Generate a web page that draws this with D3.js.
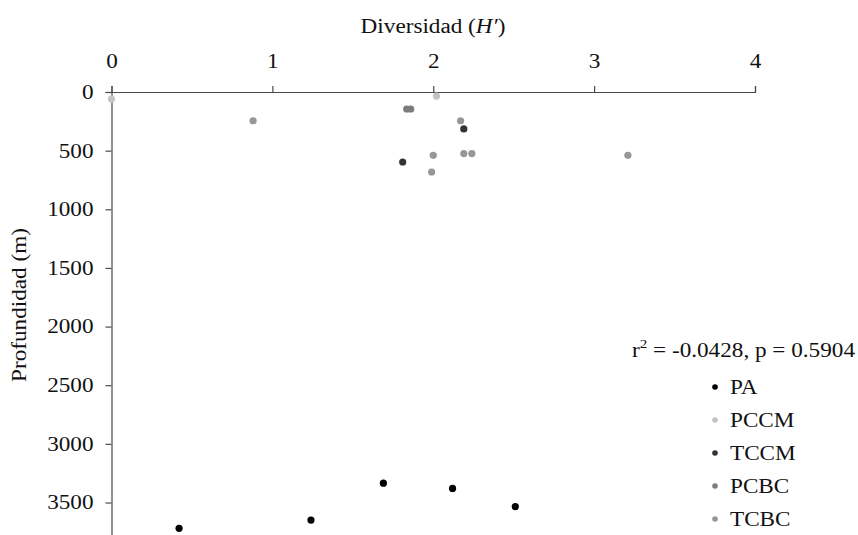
<!DOCTYPE html>
<html>
<head>
<meta charset="utf-8">
<script src="https://cdn.jsdelivr.net/npm/d3@7"></script>
<style>
  body { margin: 0; background: #fff; }
  text { font-family: "Liberation Serif", "Times New Roman", serif; fill: #111; }
</style>
</head>
<body>
<div id="chart"></div>
<script>
// Diversidad vs Profundidad Scatter Plot

// Data Arrays (H' Diversity and Depth in m)
const groups = ["PA", "PCCM", "TCCM", "PCBC", "TCBC"];
const groupColors = ["#000000", "#c4c4c4", "#333333", "#7c7c7c", "#979797"];
const paH = [0.42, 1.24, 1.69, 2.12, 2.51];
const paDepth = [3720, 3650, 3335, 3380, 3535];
const pccmH = [0.0, 2.02];
const pccmDepth = [60, 35];
const tccmH = [2.19, 1.81];
const tccmDepth = [315, 597];
const pcbcH = [1.835, 1.86];
const pcbcDepth = [145, 145];
const tcbcH = [0.88, 2.17, 2.0, 2.19, 2.24, 1.99, 3.21];
const tcbcDepth = [245, 245, 540, 525, 525, 682, 540];
const xTicks = [0, 1, 2, 3, 4];
const yTicks = [0, 500, 1000, 1500, 2000, 2500, 3000, 3500];
const statsLabel = ["r", "2", " = -0.0428, p = 0.5904"];

// Build Point List From The Arrays
const seriesH = [paH, pccmH, tccmH, pcbcH, tcbcH];
const seriesDepth = [paDepth, pccmDepth, tccmDepth, pcbcDepth, tcbcDepth];
let points = [];
groups.forEach((g, i) => {
  seriesH[i].forEach((h, j) => points.push({ group: i, h: h, depth: seriesDepth[i][j] }));
});

const W = 858, H = 535;
const stretch = 1.16; // Horizontal Stretch of The Original Lettering

const svg = d3.select("#chart")
  .append("svg")
    .attr("width", W)
    .attr("height", H);

// Scales (Depth Axis Runs Downward, Past The Picture Edge)
const x = d3.scaleLinear().domain([0, 4]).range([111.5, 755]);
const y = d3.scaleLinear().domain([0, 4000]).range([92, 92 + 4000 * 0.11729]);

// Top X Axis
const xAxis = svg.append("g")
  .attr("transform", `translate(0,${y(0)})`)
  .call(d3.axisTop(x).tickValues(xTicks).tickSize(6).tickPadding(18).tickFormat(d3.format("d")));

// Left Y Axis
const yAxis = svg.append("g")
  .attr("transform", `translate(${x(0)},0)`)
  .call(d3.axisLeft(y).tickValues(yTicks).tickSize(6).tickPadding(12).tickFormat(d3.format("d")));

[xAxis, yAxis].forEach(a => {
  a.select(".domain").attr("stroke", "#4a4a4a").attr("stroke-width", 1.2);
  a.selectAll(".tick line").attr("stroke", "#4a4a4a").attr("stroke-width", 1.2);
  a.selectAll(".tick text")
    .attr("font-size", "20px")
    .attr("font-family", "Liberation Serif")
    .attr("fill", "#111");
});
xAxis.selectAll(".tick text").attr("transform", `scale(${stretch},1)`);
yAxis.selectAll(".tick text")
  .attr("x", -18 / stretch)
  .attr("transform", `scale(${stretch},1)`);

// Axis Titles
const title = svg.append("text")
  .attr("text-anchor", "middle")
  .attr("font-size", "20px")
  .attr("transform", `translate(433,33) scale(${stretch},1)`);
title.append("tspan").text("Diversidad (");
title.append("tspan").attr("font-style", "italic").text("H\u2032");
title.append("tspan").text(")");

svg.append("text")
  .attr("text-anchor", "middle")
  .attr("font-size", "20px")
  .attr("transform", `translate(26,305) rotate(-90) scale(${stretch},1)`)
  .text("Profundidad (m)");

// Data Points
svg.selectAll("myPoints")
  .data(points)
  .enter()
  .append("circle")
    .attr("cx", d => x(d.h))
    .attr("cy", d => y(d.depth))
    .attr("r", 3.6)
    .attr("fill", d => groupColors[d.group]);

// Statistics Label
const stats = svg.append("text")
  .attr("font-size", "20px")
  .attr("transform", `translate(632,357) scale(${stretch},1)`);
stats.append("tspan").text(statsLabel[0]);
stats.append("tspan").attr("font-size", "13px").attr("dy", -9).text(statsLabel[1]);
stats.append("tspan").attr("dy", 9).text(statsLabel[2]);

// Legend
const legend = svg.selectAll("legendRows")
  .data(groups)
  .enter()
  .append("g")
    .attr("transform", (d, i) => `translate(715,${387 + i * 33})`);

legend.append("circle")
  .attr("r", 2.8)
  .attr("fill", (d, i) => groupColors[i]);

legend.append("text")
  .attr("font-size", "20px")
  .attr("transform", `translate(15,7) scale(${stretch},1)`)
  .text(d => d);
</script>
</body>
</html>
